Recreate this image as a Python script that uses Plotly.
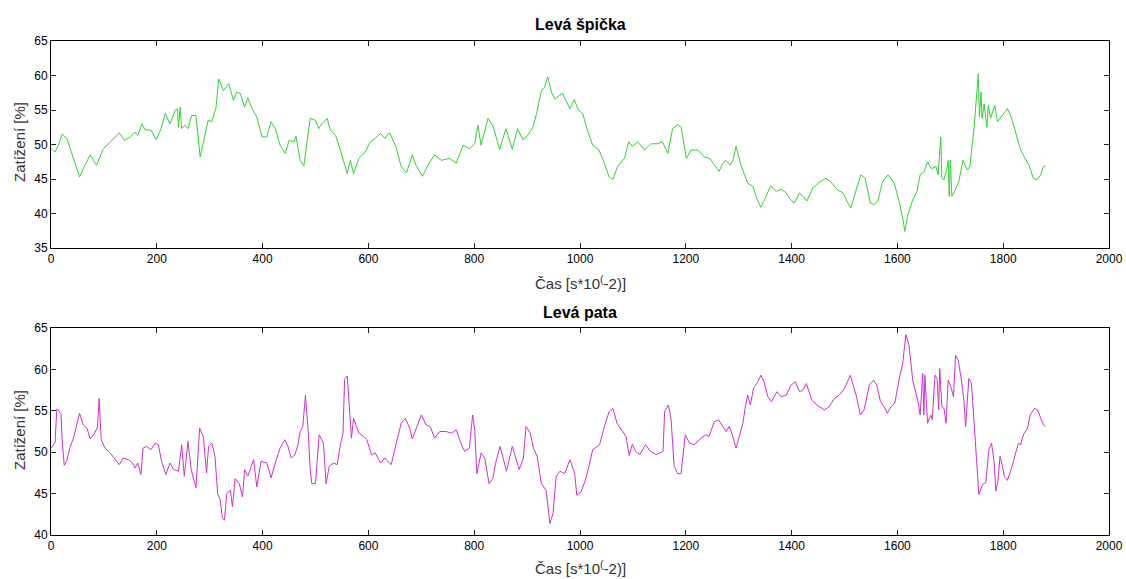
import plotly.graph_objects as go

# ---- Data: Levá špička (top, green) ----
x_spicka = [1, 7.6, 14, 21, 30, 39, 47, 54, 63, 74, 86, 99, 115, 129, 139, 150, 159, 164, 172, 178,
            189, 199, 208, 216, 225, 235, 239, 241, 244, 247, 253, 259, 266, 274, 282, 290, 297, 304,
            312, 317, 320, 326, 336, 345, 351, 358, 366, 372, 380, 389, 399, 408, 416, 424, 433, 443,
            450, 459, 463, 471, 478, 484, 490, 500, 506, 512, 522, 528, 538, 547, 560, 566, 572, 582,
            594, 604, 613, 623, 631,
            640, 652, 662, 672, 683, 690, 702, 715, 725, 738, 753, 766, 779, 791, 801, 807, 813, 826,
            835, 848, 860, 872, 882, 892, 901, 911, 918, 927, 933, 939, 946, 952, 961, 967, 973, 981,
            989, 997, 1005, 1014, 1024, 1036, 1046, 1055, 1062, 1071, 1084, 1092, 1099, 1109, 1122,
            1134, 1147, 1156, 1166, 1175, 1185, 1191, 1201, 1210, 1223, 1235, 1245, 1254, 1263,
            1270, 1276, 1284, 1289, 1295, 1305, 1317, 1327, 1335, 1342, 1352, 1360, 1371, 1380, 1390,
            1396, 1405, 1415, 1421, 1429, 1440, 1452, 1465, 1474, 1487, 1497, 1503, 1512, 1522, 1531,
            1539, 1549, 1556, 1563, 1572, 1582, 1594, 1604, 1610, 1614, 1619, 1629, 1637, 1643, 1651,
            1657, 1664, 1673, 1677, 1682, 1684, 1688, 1693, 1696, 1698, 1700, 1703, 1710, 1716, 1724,
            1732, 1737, 1745, 1750, 1753, 1755, 1758, 1760, 1764, 1769, 1772, 1776, 1784, 1789, 1798,
            1808, 1815, 1824, 1833, 1841, 1849, 1857, 1864, 1871, 1876, 1880]
y_spicka = [49.4, 48.9, 49.9, 51.5, 50.9, 48.7, 46.9, 45.3, 46.8, 48.5, 47.0, 49.4, 50.6, 51.7, 50.6,
            51.1, 51.8, 51.3, 53.0, 52.1, 52.1, 50.7, 52.3, 54.5, 53.0, 55.0, 55.2, 52.5, 55.4, 52.3,
            52.8, 52.3, 54.2, 54.2, 48.2, 50.9, 53.5, 53.3, 55.4, 59.5, 59.0, 57.8, 58.8, 56.4, 57.6,
            57.4, 55.4, 56.8, 55.2, 54.0, 51.1, 51.1, 53.3, 52.3, 49.9, 48.7, 50.6, 50.4, 51.2, 47.7,
            46.9, 50.1, 53.8, 53.5, 52.3, 53.0, 53.8, 52.1, 51.3, 49.2, 45.8, 47.7, 45.8, 48.0, 48.9,
            50.4, 50.9, 51.6, 50.9,
            51.7, 49.7, 46.8, 45.9, 48.5, 47.0, 45.4, 47.3, 48.5, 47.7, 48.0, 47.3, 49.9, 49.4, 50.1,
            52.8, 49.9, 53.8, 52.8, 49.3, 52.3, 49.3, 52.3, 50.7, 51.3, 52.5, 54.5, 57.8, 58.3, 59.8,
            57.6, 56.6, 57.1, 57.4, 56.4, 55.2, 56.5, 55.0, 54.5, 52.1, 49.9, 49.2, 47.3, 45.3, 44.9,
            46.8, 48.0, 50.4, 49.7, 50.4, 49.2, 50.1, 50.1, 50.4, 48.7, 52.3, 52.9, 52.5, 48.0, 49.2,
            49.2, 48.2, 48.0, 47.0, 46.1,
            47.3, 47.7, 47.0, 47.7, 49.7, 46.8, 44.4, 43.9, 42.0, 40.9, 42.5, 44.0, 43.2, 43.5, 43.0,
            42.2, 41.5, 43.0, 42.5, 41.8, 43.7, 44.5, 45.1, 44.6, 43.4, 43.0, 42.0, 40.8, 43.4, 45.6,
            45.1, 41.5, 41.3, 41.8, 44.6, 45.6, 44.4, 41.5, 39.3, 37.4, 39.6, 42.0, 43.2, 45.6, 46.1,
            47.5, 46.5, 46.8, 45.6, 51.1, 45.1, 44.9, 46.3, 47.7, 42.5, 47.7, 42.5, 43.5, 44.6, 47.7,
            46.3, 46.8, 52.5, 57.4, 60.3, 54.0, 57.6, 53.8, 55.9, 52.5, 55.7, 53.8, 55.7, 53.3, 54.2,
            55.2, 54.0, 51.6, 49.2, 48.0, 47.0, 45.1, 44.9, 45.6, 46.8, 46.9]

# ---- Data: Levá pata (bottom, magenta) ----
x_pata = [1, 4, 7.6, 11, 15, 19, 21, 25, 30, 36, 42, 49, 54, 61, 68, 74, 82, 88, 91, 95, 102, 112,
          121, 129, 137, 146, 154, 159, 164, 170, 174, 181, 189, 197, 203, 209, 217, 225, 232, 241,
          247, 252, 259, 265, 274, 281, 288, 294, 298, 304, 310, 315, 320, 324, 328, 332, 339, 343,
          348, 356, 362, 366, 372, 383, 389, 397, 408, 416, 424, 433, 442, 448, 454, 461, 467, 471,
          476, 481, 486, 490, 493, 500, 503, 507, 515, 520, 526, 534, 541, 547, 552, 555, 560, 564,
          568, 572, 582, 591, 597, 606, 613, 623, 631,
          643, 652, 662, 670, 678, 683, 690, 700, 709, 717, 725, 735, 747, 757, 766, 776, 782, 791,
          797, 801, 805, 813, 820, 828, 835, 842, 849, 861, 872, 877, 885, 893, 898, 906, 912, 919,
          927, 936, 943, 949, 955, 962, 971, 981, 990, 994, 1002, 1012, 1024, 1037, 1046, 1055, 1062,
          1070, 1079, 1087, 1093, 1099, 1105, 1113, 1124, 1133, 1144, 1157, 1160, 1167, 1172, 1178,
          1185, 1191, 1199, 1207, 1216, 1229, 1238, 1244,
          1254, 1262, 1270, 1276, 1282, 1288, 1295, 1301, 1308, 1312, 1317, 1322, 1328, 1336, 1342,
          1348, 1355, 1362, 1372, 1380, 1390, 1399, 1407, 1415, 1421, 1428, 1438, 1448, 1462, 1471,
          1481, 1490, 1500, 1511, 1522, 1530, 1537, 1547, 1555, 1561, 1568, 1575, 1581, 1588, 1595,
          1603, 1610, 1616, 1622, 1629, 1635, 1639, 1643, 1648, 1650, 1652, 1657, 1663, 1666, 1671,
          1675, 1678, 1680, 1684, 1688, 1692, 1696, 1701, 1706, 1710, 1715, 1721, 1726, 1729, 1735,
          1740, 1745, 1750, 1754, 1761, 1767, 1773, 1778, 1783, 1786, 1790, 1794, 1798, 1802, 1808,
          1817, 1823, 1829, 1833, 1838, 1846, 1851, 1859, 1865, 1871, 1876, 1880]
y_pata = [50.5, 50.9, 51.1, 55.2, 55.0, 54.6, 51.5, 48.4, 49.0, 50.6, 51.6, 53.5, 54.7, 53.3, 52.9,
          51.6, 52.2, 53.1, 56.5, 51.5, 50.5, 49.9, 49.1, 48.5, 49.3, 49.1, 48.7, 48.1, 48.7, 47.3,
          50.5, 50.7, 50.3, 51.1, 50.9, 48.9, 47.3, 48.7, 47.9, 47.7, 50.9, 47.1, 51.3, 47.9, 45.7,
          52.9, 51.9, 47.5, 50.7, 51.1, 49.5, 45.0, 44.2, 42.0, 41.8, 45.0, 45.4, 43.4, 46.8, 46.2,
          44.6, 47.9, 47.1, 49.1, 45.8, 48.9, 48.7, 46.9, 48.7, 50.5, 51.5, 50.7, 49.3, 49.7, 50.9,
          52.5, 53.1, 56.9, 52.7, 47.9, 46.2, 46.2, 48.9, 52.1, 51.1, 46.2, 48.3, 48.7, 48.5, 50.9,
          52.3, 58.8, 59.2, 55.5, 51.7, 54.1, 52.3, 51.9, 51.5, 49.7, 49.9, 48.7, 49.3,
          48.5, 50.9, 53.5, 54.1, 52.9, 51.6, 52.9, 54.5, 53.3, 53.1, 51.7, 52.5, 52.5, 52.3, 52.7,
          50.9, 50.1, 50.5, 54.5, 52.7, 47.4, 49.9, 49.3, 46.2, 46.8, 49.1, 50.7, 47.7, 50.7, 49.5,
          47.9, 49.3, 53.1, 52.3, 50.5, 49.5, 46.2, 45.4, 41.4, 42.6, 47.1, 47.7, 47.4, 49.1, 47.4,
          44.8, 45.2, 47.0, 50.3, 50.9, 53.1, 54.9, 55.3, 53.5, 52.7, 51.9, 49.6, 51.0, 50.1, 49.7,
          50.9, 50.1, 49.7, 50.1, 54.9, 55.7, 54.1, 48.3, 47.4, 47.4, 52.1, 51.1, 50.9, 51.7, 52.1,
          51.9,
          53.7, 53.9, 53.1, 52.5, 53.1, 52.1, 50.5, 51.8, 53.5, 55.3, 56.9, 55.7, 57.7, 58.5, 59.3,
          58.5, 56.7, 56.1, 57.3, 56.7, 56.9, 58.1, 58.5, 57.3, 57.5, 58.3, 56.3, 55.7, 55.1, 55.5,
          56.5, 56.9, 57.7, 59.3, 56.9, 54.5, 55.1, 58.1, 58.7, 58.1, 56.1, 55.5, 54.7, 55.5, 55.9,
          58.7, 60.7, 64.2, 62.9, 58.7, 57.1, 56.1, 54.5, 59.5, 54.5, 59.3, 53.5, 54.5, 53.9, 59.3,
          58.9, 55.1, 60.1, 55.5, 55.3, 53.5, 58.7, 57.9, 56.7, 61.7, 61.1, 58.7, 56.1, 53.1, 58.9,
          58.3, 53.5, 48.7, 44.9, 46.1, 46.3, 50.3, 51.1, 48.7, 45.3, 46.5, 49.5, 48.5, 47.1, 46.6,
          48.3, 49.8, 51.1, 50.9, 52.1, 52.9, 54.5, 55.3, 55.1, 54.1, 53.3, 53.1]

x_ticks = [0, 200, 400, 600, 800, 1000, 1200, 1400, 1600, 1800, 2000]
y_ticks_top = [35, 40, 45, 50, 55, 60, 65]
y_ticks_bot = [40, 45, 50, 55, 60, 65]

titles = ["Levá špička", "Levá pata"]
x_label = "Čas [s*10<sup>(</sup>-2)]"
y_label = "Zatížení [%]"

W, H = 1126, 579
fig = go.Figure()
fig.add_trace(go.Scatter(x=x_spicka, y=y_spicka, mode="lines",
                         line=dict(color="#33d233", width=1), xaxis="x", yaxis="y",
                         showlegend=False, hoverinfo="skip"))
fig.add_trace(go.Scatter(x=x_pata, y=y_pata, mode="lines",
                         line=dict(color="#cc33cc", width=1), xaxis="x2", yaxis="y2",
                         showlegend=False, hoverinfo="skip"))

xdom = [51 / W, 1109 / W]
top_dom = [1 - 248 / H, 1 - 41 / H]
bot_dom = [1 - 535 / H, 1 - 328 / H]

tickfont = dict(family="Liberation Sans, Arial", size=12, color="#000000")
axcommon = dict(showline=True, linecolor="#000000", linewidth=1, mirror="ticks",
                ticks="inside", ticklen=5, tickcolor="#222222", tickwidth=1,
                showgrid=False, zeroline=False, tickfont=tickfont, fixedrange=True,
                automargin=False)

fig.update_layout(
    width=W, height=H,
    margin=dict(l=0, r=0, t=0, b=0, autoexpand=False),
    paper_bgcolor="white", plot_bgcolor="white",
    xaxis=dict(domain=xdom, range=[0, 2000], tickvals=x_ticks, anchor="y", **axcommon),
    yaxis=dict(domain=top_dom, range=[35, 65], tickvals=y_ticks_top, anchor="x", **axcommon),
    xaxis2=dict(domain=xdom, range=[0, 2000], tickvals=x_ticks, anchor="y2", **axcommon),
    yaxis2=dict(domain=bot_dom, range=[40, 65], tickvals=y_ticks_bot, anchor="x2", **axcommon),
)

cx = (51 + 1109) / 2 / W
labfont = dict(family="Liberation Sans, Arial", size=15, color="#333333")
titfont = dict(family="Liberation Sans, Arial", size=16, color="#000000")
ann = []
for title, ty, xy, yy in [(titles[0], 24, 282, 142), (titles[1], 312, 567, 430)]:
    ann.append(dict(text="<b>" + title + "</b>", x=cx, y=1 - ty / H, xref="paper", yref="paper",
                    showarrow=False, font=titfont, xanchor="center", yanchor="middle"))
    ann.append(dict(text=x_label, x=cx, y=1 - xy / H, xref="paper", yref="paper",
                    showarrow=False, font=labfont, xanchor="center", yanchor="middle"))
    ann.append(dict(text=y_label, x=19 / W, y=1 - yy / H, xref="paper", yref="paper",
                    showarrow=False, font=labfont, textangle=-90,
                    xanchor="center", yanchor="middle"))
fig.update_layout(annotations=ann)

fig.write_html("out.html")
